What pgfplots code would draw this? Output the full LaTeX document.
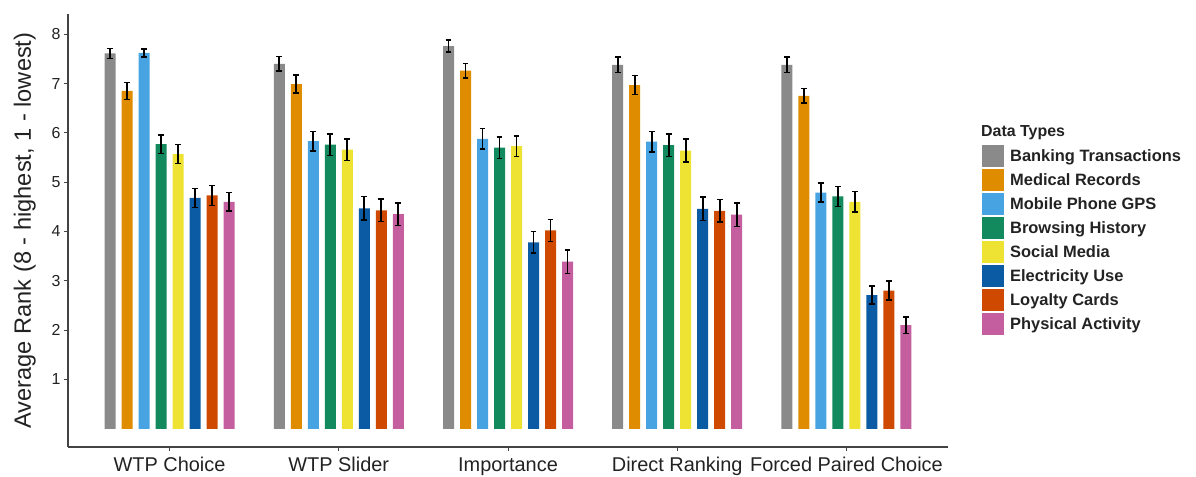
\documentclass[border=0pt]{standalone}
\usepackage{fontspec}
\setmainfont{Liberation Sans}
\usepackage{pgfplots}
\usepackage{pgfplotstable}
\pgfplotsset{compat=1.18}
\definecolor{cBank}{HTML}{8A8A8A}
\definecolor{cMed}{HTML}{E08C00}
\definecolor{cGPS}{HTML}{48A3E3}
\definecolor{cBrow}{HTML}{138A5E}
\definecolor{cSoc}{HTML}{EEE233}
\definecolor{cElec}{HTML}{0A5BA3}
\definecolor{cLoy}{HTML}{CF4A00}
\definecolor{cPhys}{HTML}{C45E9E}
\definecolor{txt}{HTML}{222222}
\pgfplotstableread{
x y e
1 7.61 0.10
2 7.40 0.15
3 7.76 0.12
4 7.38 0.16
5 7.38 0.16
}\bank
\pgfplotstableread{
x y e
1 6.85 0.17
2 6.99 0.18
3 7.26 0.15
4 6.97 0.19
5 6.75 0.15
}\med
\pgfplotstableread{
x y e
1 7.62 0.08
2 5.83 0.20
3 5.88 0.21
4 5.82 0.21
5 4.79 0.19
}\gps
\pgfplotstableread{
x y e
1 5.77 0.19
2 5.76 0.22
3 5.70 0.22
4 5.75 0.23
5 4.71 0.20
}\brow
\pgfplotstableread{
x y e
1 5.57 0.19
2 5.66 0.22
3 5.73 0.21
4 5.64 0.23
5 4.60 0.21
}\soc
\pgfplotstableread{
x y e
1 4.68 0.19
2 4.47 0.24
3 3.78 0.22
4 4.46 0.24
5 2.71 0.18
}\elec
\pgfplotstableread{
x y e
1 4.73 0.20
2 4.43 0.23
3 4.02 0.22
4 4.42 0.23
5 2.80 0.19
}\loy
\pgfplotstableread{
x y e
1 4.60 0.19
2 4.35 0.23
3 3.39 0.24
4 4.34 0.24
5 2.10 0.17
}\phys
\begin{document}
\begin{tikzpicture}
\path[use as bounding box] (-68bp,-30bp) rectangle (1128bp,447bp);
\begin{axis}[
  at={(0,0)}, anchor=south west,
  scale only axis, width=880bp, height=433bp,
  xmin=0.4, xmax=5.6, ymin=-0.37, ymax=8.41,
  axis lines*=left,
  axis line style={-, line width=1.1pt, draw=txt!85},
  tick style={line width=1.0pt, draw=txt!85},
  tick align=outside, major tick length=4bp,
  xtick={1,2,3,4,5},
  xticklabels={WTP Choice, WTP Slider, Importance, Direct Ranking, Forced Paired Choice},
  ytick={1,2,3,4,5,6,7,8},
  /pgf/number format/assume math mode=true,
  xticklabel style={font=\fontsize{20}{22}\selectfont, text=txt, yshift=-3bp},
  yticklabel style={font=\fontsize{16}{18}\selectfont, text=txt},
  ylabel={Average Rank (8 - highest, 1 - lowest)},
  ylabel style={font=\fontsize{23.7}{26}\selectfont, text=txt, at={(axis description cs:-0.049,0.5)}, anchor=center},
  ybar=6bp, bar width=11bp,
  error bars/y dir=both, error bars/y explicit,
  error bars/error bar style={line width=1.6pt, black},
  error bars/error mark options={rotate=90, mark size=2.8bp, line width=1.6pt, black},
  legend cell align=left,
  legend style={at={(axis description cs:1.0352,0.702)}, anchor=north west, draw=none, fill=none,
    font=\bfseries\fontsize{16.5}{18}\selectfont, text=txt, row sep=2bp, column sep=6bp,
    nodes={inner sep=0pt, anchor=west}},
  legend image code/.code={\fill[#1,draw=none] (0bp,-11bp) rectangle (22bp,11bp);},
  clip=false,
]
\addplot[fill=cBank, draw=none] table[x=x, y=y, y error=e] {\bank};
\addplot[fill=cMed, draw=none] table[x=x, y=y, y error=e] {\med};
\addplot[fill=cGPS, draw=none] table[x=x, y=y, y error=e] {\gps};
\addplot[fill=cBrow, draw=none] table[x=x, y=y, y error=e] {\brow};
\addplot[fill=cSoc, draw=none] table[x=x, y=y, y error=e] {\soc};
\addplot[fill=cElec, draw=none] table[x=x, y=y, y error=e] {\elec};
\addplot[fill=cLoy, draw=none] table[x=x, y=y, y error=e] {\loy};
\addplot[fill=cPhys, draw=none] table[x=x, y=y, y error=e] {\phys};
\legend{Banking Transactions, Medical Records, Mobile Phone GPS, Browsing History, Social Media, Electricity Use, Loyalty Cards, Physical Activity}
\node[anchor=west, font=\bfseries\fontsize{16}{18}\selectfont, text=txt, inner sep=0pt] at (axis description cs:1.0375,0.727) {Data Types};
\end{axis}
\end{tikzpicture}
\end{document}
